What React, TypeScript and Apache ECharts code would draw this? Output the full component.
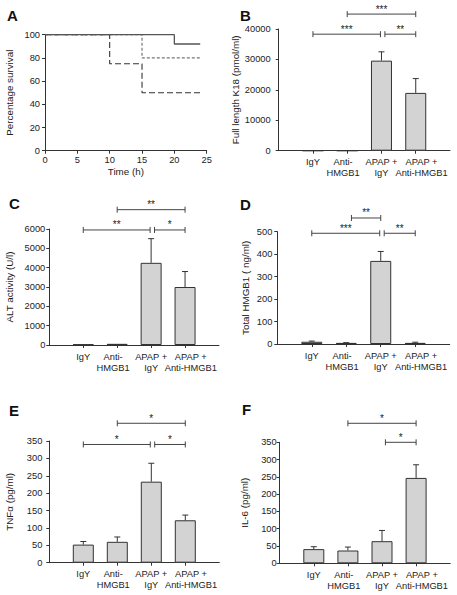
import React, { useEffect, useRef } from "react";
import * as echarts from "echarts";

// ---------- data ----------
const categories = ["IgY", "Anti-\nHMGB1", "APAP +\nIgY", "APAP +\nAnti-HMGB1"];
const catPos = [1, 2, 3, 4];
// where each category label is centred (the original labels are slightly off their ticks)
const labelAt = [1, 1.88, 3, 4.17];

// Panel A: survival (Kaplan-Meier steps)
const survSolidT = [0, 20, 24];
const survSolidV = [100, 92, 92];
const survShortT = [0, 15, 24];
const survShortV = [100, 80, 80];
const survLongT = [0, 10, 15, 24];
const survLongV = [100, 75, 50, 50];

// Panel B: Full length K18 (pmol/ml)
const k18Mean = [0, 0, 29600, 19000];
const k18Sem = [0, 0, 2900, 4700];
// Panel C: ALT activity (U/l)
const altMean = [30, 60, 4250, 3000];
const altSem = [0, 0, 1250, 800];
// Panel D: Total HMGB1 (ng/ml)
const hmgbMean = [10, 5, 370, 5];
const hmgbSem = [3, 1, 42, 3];
// Panel E: TNFα (pg/ml)
const tnfMean = [52, 60, 233, 122];
const tnfSem = [9, 14, 53, 15];
// Panel F: IL-6 (pg/ml)
const il6Mean = [41, 37, 64, 247];
const il6Sem = [7, 10, 31, 38];

// significance brackets: [from, to, level(data units)]
const bBrackets = [[2, 4, 44900], [1, 2.97, 38300], [3.1, 4, 38300]];
const bStars = ["***", "***", "**"];
const cBrackets = [[2, 4, 7000], [1, 2.97, 5950], [3.1, 4, 5950]];
const cStars = ["**", "**", "*"];
const dBrackets = [[2.15, 3, 561], [1, 2.97, 493], [3.1, 4, 493]];
const dStars = ["**", "***", "**"];
const eBrackets = [[2, 4, 401], [1, 2.97, 340], [3.1, 4, 340]];
const eStars = ["*", "*", "*"];
const fBrackets = [[2, 4, 405], [3.1, 4, 350]];
const fStars = ["*", "*"];

const FONT = "Liberation Sans, Arial, sans-serif";
const AX = "#333";

export default function App() {
  const ref = useRef<HTMLDivElement>(null);
  useEffect(() => {
    if (!ref.current) return;
    const chart = echarts.init(ref.current, null, { renderer: "svg" });

    const grids = [
      { left: 45, top: 34.7, width: 161.7, height: 116 },
      { left: 278.7, top: 29, width: 171.3, height: 121.7 },
      { left: 49.3, top: 229, width: 169.7, height: 116 },
      { left: 277.3, top: 231.7, width: 172.4, height: 112.3 },
      { left: 49.3, top: 441, width: 170, height: 121.7 },
      { left: 279.7, top: 442.3, width: 170.5, height: 121 },
    ].map((g) => ({ ...g, containLabel: false, outerBoundsMode: "none" }));

    const panels = [
      { name: "Full length K18 (pmol/ml)", max: 40000, interval: 10000, mean: k18Mean, sem: k18Sem, br: bBrackets, st: bStars, lm: 8, ng: 31 },
      { name: "ALT activity (U/l)", max: 6000, interval: 1000, mean: altMean, sem: altSem, br: cBrackets, st: cStars, lm: 4, ng: 35 },
      { name: "Total HMGB1 ( ng/ml)", max: 500, interval: 100, mean: hmgbMean, sem: hmgbSem, br: dBrackets, st: dStars, lm: 5, ng: 27 },
      { name: "TNFα (pg/ml)", max: 350, interval: 50, mean: tnfMean, sem: tnfSem, br: eBrackets, st: eStars, lm: 7, ng: 35 },
      { name: "IL-6 (pg/ml)", max: 350, interval: 50, mean: il6Mean, sem: il6Sem, br: fBrackets, st: fStars, lm: 3, ng: 30 },
    ];

    const axisLine = { show: true, lineStyle: { color: AX, width: 1 } };
    const tick = { show: true, length: 3, lineStyle: { color: AX } };
    const lbl = {
      color: "#222", fontFamily: FONT, fontSize: 9.3,
      formatter: (v: number) => String(v),
      hideOverlap: false,
    };

    const xAxis: any[] = [
      {
        type: "value", gridIndex: 0, min: 0, max: 25, interval: 5,
        axisLine, axisTick: tick, splitLine: { show: false },
        axisLabel: { ...lbl, margin: 5, showMinLabel: true, showMaxLabel: true },
        name: "Time (h)", nameLocation: "middle", nameGap: 16,
        nameTextStyle: { fontFamily: FONT, fontSize: 9.8, color: "#222" },
      },
    ];
    const yAxis: any[] = [
      {
        type: "value", gridIndex: 0, min: 0, max: 100, interval: 20,
        axisLine, axisTick: tick, splitLine: { show: false },
        axisLabel: { ...lbl, margin: 5, showMinLabel: true, showMaxLabel: true },
        name: "Percentage survival", nameLocation: "middle", nameGap: 31,
        nameTextStyle: { fontFamily: FONT, fontSize: 9.8, color: "#222" },
      },
    ];
    const series: any[] = [
      {
        type: "line", xAxisIndex: 0, yAxisIndex: 0, step: "end", symbol: "none",
        data: survShortT.map((t, i) => [t, survShortV[i]]),
        lineStyle: { color: "#777", width: 1.2, type: [3, 2] },
      },
      {
        type: "line", xAxisIndex: 0, yAxisIndex: 0, step: "end", symbol: "none",
        data: survLongT.map((t, i) => [t, survLongV[i]]),
        lineStyle: { color: "#333", width: 1.1, type: [6, 3] },
      },
      {
        type: "line", xAxisIndex: 0, yAxisIndex: 0, step: "end", symbol: "none",
        data: survSolidT.map((t, i) => [t, survSolidV[i]]),
        lineStyle: { color: "#555", width: 1.3 },
      },
    ];

    panels.forEach((p, k) => {
      const gi = k + 1;
      xAxis.push({
        type: "value", gridIndex: gi, min: 0, max: 5, interval: 1,
        axisLine,
        axisTick: { ...tick, customValues: catPos },
        splitLine: { show: false },
        axisLabel: {
          ...lbl, margin: 6, lineHeight: 11, customValues: [0, ...labelAt, 5],
          formatter: (v: number) => {
            const i = labelAt.findIndex((q) => Math.abs(q - v) < 1e-6);
            return i >= 0 ? categories[i] : "";
          },
        },
      });
      yAxis.push({
        type: "value", gridIndex: gi, min: 0, max: p.max, interval: p.interval,
        axisLine, axisTick: tick, splitLine: { show: false },
        axisLabel: { ...lbl, margin: p.lm, showMinLabel: true, showMaxLabel: true },
        name: p.name, nameLocation: "middle", nameGap: p.ng,
        nameTextStyle: { fontFamily: FONT, fontSize: 9.8, color: "#222" },
      });
      series.push({
        type: "bar", xAxisIndex: gi, yAxisIndex: gi, barWidth: 21,
        data: catPos.map((c, i) => [c, p.mean[i]]),
        itemStyle: { color: "#d3d3d3", borderColor: "#333", borderWidth: 1 },
      });
      series.push({
        type: "custom", xAxisIndex: gi, yAxisIndex: gi, clip: false, z: 3,
        encode: { x: 0, y: [1, 2] },
        data: catPos.filter((_, i) => p.sem[i] > 0).map((c) => {
          const i = c - 1;
          return [c, p.mean[i], p.mean[i] + p.sem[i]];
        }),
        renderItem: (params: any, api: any) => {
          const a = api.coord([api.value(0), api.value(1)]);
          const b = api.coord([api.value(0), api.value(2)]);
          const st = { stroke: "#333", lineWidth: 1 };
          return {
            type: "group",
            children: [
              { type: "line", shape: { x1: a[0], y1: a[1], x2: b[0], y2: b[1] }, style: st },
              { type: "line", shape: { x1: b[0] - 3, y1: b[1], x2: b[0] + 3, y2: b[1] }, style: st },
            ],
          };
        },
      });
      const stars = p.st;
      series.push({
        type: "custom", xAxisIndex: gi, yAxisIndex: gi, clip: false, z: 4,
        encode: { x: [0, 1], y: 2 },
        data: p.br,
        renderItem: (params: any, api: any) => {
          const a = api.coord([api.value(0), api.value(2)]);
          const b = api.coord([api.value(1), api.value(2)]);
          const st = { stroke: "#444", lineWidth: 1 };
          return {
            type: "group",
            children: [
              { type: "line", shape: { x1: a[0], y1: a[1], x2: b[0], y2: b[1] }, style: st },
              { type: "line", shape: { x1: a[0], y1: a[1] - 3, x2: a[0], y2: a[1] + 3 }, style: st },
              { type: "line", shape: { x1: b[0], y1: b[1] - 3, x2: b[0], y2: b[1] + 3 }, style: st },
              {
                type: "text", x: (a[0] + b[0]) / 2, y: a[1] - 5,
                style: {
                  text: stars[params.dataIndex], fontFamily: FONT, fontSize: 10,
                  fill: "#222", align: "center", verticalAlign: "middle",
                },
              },
            ],
          };
        },
      });
    });

    const letters = [
      ["A", 7, 15], ["B", 240, 15], ["C", 9, 203], ["D", 240, 204], ["E", 9, 410], ["F", 242, 409],
    ];

    chart.setOption({
      animation: false,
      backgroundColor: "#fff",
      grid: grids,
      xAxis,
      yAxis,
      series,
      graphic: letters.map(([t, x, y]) => ({
        type: "text", x: x as number, y: y as number,
        style: {
          text: t as string, fontFamily: FONT, fontSize: 15, fontWeight: "bold",
          fill: "#111", verticalAlign: "middle",
        },
      })),
    });
    return () => chart.dispose();
  }, []);

  return (
    <div
      ref={ref}
      style={{ position: "fixed", left: 0, top: 0, width: 457, height: 595 }}
    />
  );
}
